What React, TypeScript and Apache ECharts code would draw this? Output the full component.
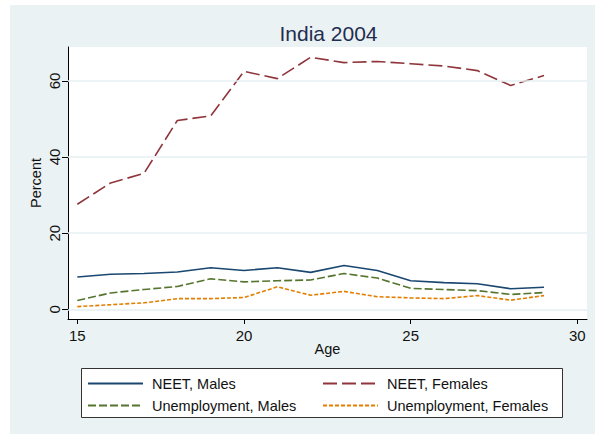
import React, { useEffect, useRef } from "react";
import * as echarts from "echarts";

const ages = [15, 16, 17, 18, 19, 20, 21, 22, 23, 24, 25, 26, 27, 28, 29];
const neetMales = [8.5, 9.2, 9.4, 9.8, 10.9, 10.2, 10.9, 9.7, 11.5, 10.2, 7.5, 7.0, 6.7, 5.4, 5.8];
const neetFemales = [27.6, 33.2, 35.7, 49.6, 50.8, 62.5, 60.6, 66.2, 64.8, 65.1, 64.5, 63.9, 62.7, 58.8, 61.4];
const unempMales = [2.3, 4.3, 5.2, 6.0, 8.0, 7.2, 7.5, 7.7, 9.4, 8.2, 5.5, 5.2, 4.9, 3.9, 4.4];
const unempFemales = [0.7, 1.2, 1.7, 2.8, 2.8, 3.1, 5.9, 3.7, 4.7, 3.3, 3.0, 2.8, 3.6, 2.4, 3.6];
const xTicks = [15, 20, 25, 30];
const yTicks = [0, 20, 40, 60];
const seriesNames = ["NEET, Males", "NEET, Females", "Unemployment, Males", "Unemployment, Females"];

const FONT = "'Liberation Sans', Arial, Helvetica, sans-serif";

export default function App() {
  const ref = useRef<HTMLDivElement>(null);
  useEffect(() => {
    if (!ref.current) return;
    const chart = echarts.init(ref.current, undefined, { renderer: "svg" });
    const pairs = (vals: number[]) => ages.map((a, i) => [a, vals[i]]);
    const mk = (name: string, vals: number[], color: string, type: any, z: number) => ({
      name,
      type: "line",
      data: pairs(vals),
      symbol: "none",
      z,
      lineStyle: { color, width: 1.6, type },
      itemStyle: { color },
    });
    const legendBase = {
      top: 371,
      orient: "vertical",
      padding: 0,
      itemWidth: 55,
      itemHeight: 14,
      itemGap: 7,
      itemStyle: { opacity: 0, borderWidth: 0 },
      textStyle: { fontSize: 14.5, color: "#111", fontFamily: FONT, padding: [0, 0, 0, 4] },
    };
    chart.setOption({
      animation: false,
      backgroundColor: "#eaf2f3",
      textStyle: { fontFamily: FONT },
      grid: {
        left: 58,
        top: 42,
        right: 8,
        bottom: 115,
        show: true,
        backgroundColor: "#ffffff",
        borderWidth: 0,
      },
      graphic: [
        {
          type: "text",
          x: 318.5,
          y: 28,
          style: {
            text: "India 2004",
            fontSize: 21,
            fontFamily: FONT,
            fill: "#1f2d50",
            textAlign: "center",
            textVerticalAlign: "middle",
          },
        },
        {
          type: "rect",
          z: 1,
          shape: { x: 71.5, y: 363.5, width: 481, height: 49 },
          style: { fill: "#ffffff", stroke: "#333333", lineWidth: 1 },
        },
      ],
      xAxis: {
        type: "value",
        min: 14.72,
        max: 30.29,
        name: "Age",
        nameLocation: "middle",
        nameGap: 22,
        nameMoveOverlap: false,
        nameTextStyle: { fontSize: 14.5, color: "#111", fontFamily: FONT },
        axisLine: { show: true, onZero: false, lineStyle: { color: "#000", width: 1 } },
        axisTick: { show: true, length: 5, customValues: xTicks, lineStyle: { color: "#000" } },
        axisLabel: { customValues: xTicks, fontSize: 15, color: "#111", margin: 9, fontFamily: FONT },
        splitLine: { show: false },
      },
      yAxis: {
        type: "value",
        min: -2.55,
        max: 68.9,
        name: "Percent",
        nameLocation: "middle",
        nameGap: 25,
        nameMoveOverlap: false,
        nameTextStyle: { fontSize: 14.5, color: "#111", fontFamily: FONT },
        axisLine: { show: true, onZero: false, lineStyle: { color: "#000", width: 1 } },
        axisTick: { show: true, length: 6, customValues: yTicks, lineStyle: { color: "#000" } },
        axisLabel: { customValues: yTicks, fontSize: 15, color: "#111", margin: 6, rotate: 90, fontFamily: FONT },
        splitLine: { show: false },
      },
      legend: [
        { ...legendBase, left: 77, data: [seriesNames[0], seriesNames[2]] },
        { ...legendBase, left: 312, data: [seriesNames[1], seriesNames[3]] },
      ],
      series: [
        {
          name: "grid",
          type: "line",
          data: [],
          z: 1,
          silent: true,
          markLine: {
            silent: true,
            symbol: "none",
            label: { show: false },
            lineStyle: { color: "#e6eff0", width: 1.5, type: "solid" },
            data: yTicks.map((v) => ({ yAxis: v })),
          },
        },
        mk(seriesNames[0], neetMales, "#1a476f", "solid", 3),
        mk(seriesNames[1], neetFemales, "#90353b", [14, 5], 3),
        mk(seriesNames[2], unempMales, "#55752f", [8, 3], 3),
        mk(seriesNames[3], unempFemales, "#e37e00", [4, 2], 3),
      ],
    });
    return () => chart.dispose();
  }, []);
  return (
    <div style={{ position: "absolute", left: 0, top: 0, width: 595, height: 434, background: "#fff" }}>
      <div ref={ref} style={{ position: "absolute", left: 10, top: 5, width: 585, height: 429 }} />
    </div>
  );
}
